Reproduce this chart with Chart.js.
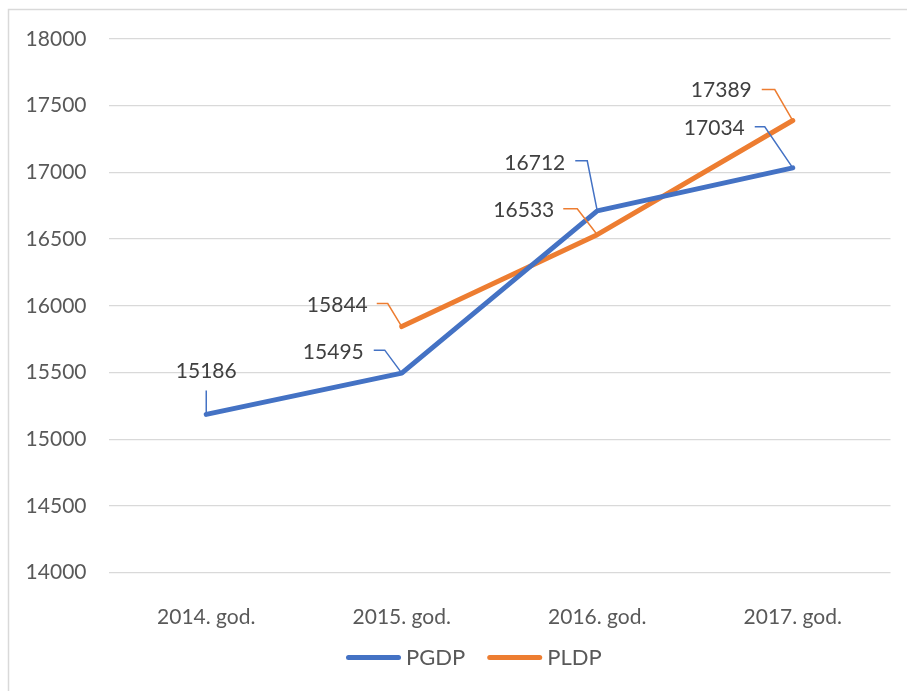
<!DOCTYPE html>
<html>
<head>
<meta charset="utf-8">
<script src="https://cdn.jsdelivr.net/npm/chart.js@4.4.1/dist/chart.umd.min.js"></script>
<style>
html,body{margin:0;padding:0;background:#fff;}
#wrap{position:relative;width:907px;height:691px;}
</style>
</head>
<body>
<div id="wrap"><canvas id="c" width="907" height="691"></canvas></div>
<script>
const categories = ['2014. god.', '2015. god.', '2016. god.', '2017. god.'];
const pgdpValues = [15186, 15495, 16712, 17034];
const pldpValues = [null, 15844, 16533, 17389];
const seriesNames = ['PGDP', 'PLDP'];
const yMin = 14000, yMax = 18000, yStep = 500;

const BLUE = '#4472C4', ORANGE = '#ED7D31';
const FONT = "Lato, 'Open Sans', sans-serif";

// label layout: text anchor offset and leader polyline, relative to the point (pixels)
const labelLayout = [
  [ {t:[0,-43], a:'center', l:[[0,-24],[0,0]]},
    {t:[-38,-21], a:'right', l:[[-28,-23],[-17,-23],[0,0]]},
    {t:[-32,-48], a:'right', l:[[-22,-50],[-10,-50],[0,0]]},
    {t:[-48,-40], a:'right', l:[[-38,-41],[-28,-41],[0,0]]} ],
  [ null,
    {t:[-34,-21], a:'right', l:[[-25,-23],[-14,-23],[0,0]]},
    {t:[-43,-24], a:'right', l:[[-34,-26],[-20,-26],[0,0]]},
    {t:[-41,-30], a:'right', l:[[-31,-31],[-18,-31],[0,0]]} ]
];

const framePlugin = {
  id: 'frame',
  beforeDraw(chart) {
    const ctx = chart.ctx;
    ctx.save();
    ctx.strokeStyle = '#d9d9d9';
    ctx.lineWidth = 1.5;
    ctx.beginPath();
    ctx.moveTo(8.5, 700);
    ctx.lineTo(8.5, 9.5);
    ctx.lineTo(910, 9.5);
    ctx.stroke();
    ctx.restore();
  }
};

const legendPlugin = {
  id: 'lineLegend',
  afterDraw(chart) {
    const ctx = chart.ctx;
    const lineW = 55, gap = 5, spacing = 22, cy = 657.5;
    let x = 346;
    ctx.save();
    ctx.font = '22px ' + FONT;
    chart.data.datasets.forEach(ds => {
      const w = ctx.measureText(ds.label).width;
      ctx.strokeStyle = ds.borderColor;
      ctx.lineWidth = 5;
      ctx.lineCap = 'round';
      ctx.beginPath();
      ctx.moveTo(x + 2.5, cy);
      ctx.lineTo(x + lineW - 2.5, cy);
      ctx.stroke();
      ctx.fillStyle = '#595959';
      ctx.textAlign = 'left';
      ctx.textBaseline = 'middle';
      ctx.fillText(ds.label, x + lineW + gap, cy);
      x += lineW + gap + Math.max(w, 52) + spacing;
    });
    ctx.restore();
  }
};

const labelPlugin = {
  id: 'leaderLabels',
  afterDatasetsDraw(chart) {
    const ctx = chart.ctx;
    ctx.save();
    chart.data.datasets.forEach((ds, di) => {
      const meta = chart.getDatasetMeta(di);
      meta.data.forEach((pt, i) => {
        const v = ds.data[i];
        const cfg = labelLayout[di][i];
        if (v == null || !cfg) return;
        const x = pt.x, y = pt.y;
        ctx.strokeStyle = ds.borderColor;
        ctx.lineWidth = 1.5;
        ctx.lineJoin = 'miter';
        ctx.beginPath();
        cfg.l.forEach((p, k) => {
          if (k === 0) ctx.moveTo(x + p[0], y + p[1]);
          else ctx.lineTo(x + p[0], y + p[1]);
        });
        ctx.stroke();
        ctx.fillStyle = '#404040';
        ctx.font = '21px ' + FONT;
        ctx.textAlign = cfg.a;
        ctx.textBaseline = 'middle';
        ctx.fillText(String(v), x + cfg.t[0], y + cfg.t[1]);
      });
    });
    ctx.restore();
  }
};

new Chart(document.getElementById('c'), {
  type: 'line',
  data: {
    labels: categories,
    datasets: [
      { label: seriesNames[0], data: pgdpValues, borderColor: BLUE, backgroundColor: BLUE,
        borderWidth: 5, pointRadius: 0, tension: 0, borderJoinStyle: 'round', borderCapStyle: 'round' },
      { label: seriesNames[1], data: pldpValues, borderColor: ORANGE, backgroundColor: ORANGE,
        borderWidth: 5, pointRadius: 0, tension: 0, borderJoinStyle: 'round', borderCapStyle: 'round' }
    ]
  },
  options: {
    responsive: false,
    animation: false,
    devicePixelRatio: 1,
    layout: { padding: { left: 0, right: 16.5, top: 39, bottom: 56.6 } },
    plugins: {
      tooltip: { enabled: false },
      legend: { display: false }
    },
    scales: {
      x: {
        offset: true,
        grid: { display: false },
        border: { display: false },
        ticks: { color: '#595959', font: { family: FONT, size: 21 }, padding: 24, maxRotation: 0 },
        afterFit(s) { s.height = 61.8; }
      },
      y: {
        min: yMin, max: yMax,
        grid: { color: '#d9d9d9', lineWidth: 1.3, drawTicks: false },
        border: { display: false },
        ticks: { stepSize: yStep, color: '#595959', font: { family: FONT, size: 21 }, padding: 22,
                 callback: (v) => String(v) },
        afterFit(s) { s.width = 108.5; }
      }
    }
  },
  plugins: [framePlugin, labelPlugin, legendPlugin]
});
</script>
</body>
</html>
